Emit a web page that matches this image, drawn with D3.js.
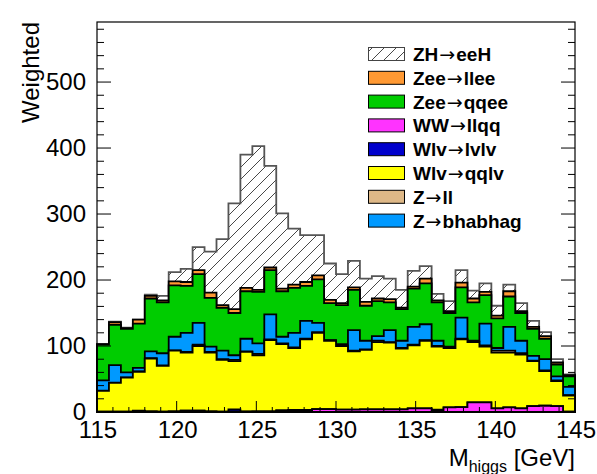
<!DOCTYPE html>
<html>
<head>
<meta charset="utf-8">
<script src="https://cdn.jsdelivr.net/npm/d3@7"></script>
<style>
  body { margin: 0; background: #fff; }
  text { font-family: "Liberation Sans", Arial, Helvetica, sans-serif; fill: #000; }
</style>
</head>
<body>
<svg id="chart" width="597" height="474"></svg>
<script>
// Binning of M_higgs: 40 bins of 0.75 GeV from 115 to 145 GeV
const binLowEdges = d3.range(40).map(i => 115 + i * 0.75);
const xRange = [115, 145];

// Weighted event counts per bin, one array per sample
const wwLlqq   = [0.5,0.5,0.5,1.5,1,0.5,1,2,2,1,0.5,1,0.5,1,1,2.5,2.5,3,4.5,4.5,3.5,3.5,4,4,4,4,5.5,5.5,3,7,7.5,14.5,14.5,5.5,7,5.5,9,9.5,9,0.5];
const wlvLvlv  = [0,0,0,0.5,0,0,0,0,0,0,0,3,0.5,0,0,0,0.5,0,0,0,0,0,0,0,0,0,0,0,0.5,0,0,0,0,0,0,0,0,0,0,0];
const wlvQqlv  = [31.5,43.5,51.5,59,80,69.5,92,88,98,89,78.5,73,90,85,108,100.5,94,107,115.5,103.5,96.5,88.5,90,102,101,92,95.5,102.5,95.5,90,102.5,91.5,84.5,84.5,83,81.5,68,52.5,38,24.5];
const zLl      = [0.5,0.5,0.5,0.5,0.5,0.5,0.5,1,2,1,1,2,1,2,1,1,1,1,1,0.5,1,1,1,2,1,1,1,1,1,1,1,1,2,3,3,2,1,1,1,0.5];
const zBhabhag = [15.5,26.5,7.5,5.5,10.5,18.5,20.5,29,33,8,13,7,19,16,38,10,22,27,14,0.5,2,31,13,7,18,11,27,24,8,1,32,1,33,4,36,19,7,17,6,12.5];
const zeeQqee  = [54,61,66,67,80,77,78,71,74,74,65,64,72,78,67,69,68,53,66,56,59,61,53,53,42,48,58,62,58,51,46,58,43,45,46,42,41,31,18,16];
const zeeLlee  = [1,4,1,6,4,3,6,6,6,8,4,6,5,3,4,4,5,6,6,5,3,4,6,4,5,2,3,7,3,3,7,6,5,4,8,3,3,4,3,2];
const zhEeH    = [0,1,1,0,2,7,14,20,35,62,100,160,202,218,154,114,85,71,61,55,44,40,35,34,31,27,24,19,10,15,19,12,13,15,10,12,9,6,5,1];

// Samples from bottom of the stack to top
const sampleNames  = ["WW→llqq", "Wlv→lvlv", "Wlv→qqlv", "Z→ll", "Z→bhabhag", "Zee→qqee", "Zee→llee", "ZH→eeH"];
const sampleValues = [wwLlqq, wlvLvlv, wlvQqlv, zLl, zBhabhag, zeeQqee, zeeLlee, zhEeH];
const sampleColors = ["#ff33ff", "#0000cc", "#ffff00", "#deb887", "#0099ff", "#00cc00", "#ff9933", "hatch"];

// Legend order, top to bottom
const legendOrder = ["ZH→eeH", "Zee→llee", "Zee→qqee", "WW→llqq", "Wlv→lvlv", "Wlv→qqlv", "Z→ll", "Z→bhabhag"];

const yTickValues = [0, 100, 200, 300, 400, 500];
const xTickValues = [115, 120, 125, 130, 135, 140, 145];

const svg = d3.select("#chart");
const frame = { left: 97, right: 575, top: 22, bottom: 412 };

const x = d3.scaleLinear().domain(xRange).range([frame.left, frame.right]);
const y = d3.scaleLinear().domain([0, 591]).range([frame.bottom, frame.top]);

// Hatch pattern for the signal
const defs = svg.append("defs");
const pat = defs.append("pattern")
  .attr("id", "hatch").attr("patternUnits", "userSpaceOnUse")
  .attr("width", 12).attr("height", 12);
pat.append("rect").attr("width", 12).attr("height", 12).attr("fill", "#fff");
pat.append("path")
  .attr("d", "M0,12 L12,0 M-3,3 L3,-3 M9,15 L15,9")
  .attr("stroke", "#333").attr("stroke-width", 0.9);

// Stack the samples
const table = binLowEdges.map((e, i) => {
  const row = { edge: e };
  sampleNames.forEach((n, k) => { row[n] = sampleValues[k][i]; });
  return row;
});
const stacked = d3.stack().keys(sampleNames)(table);

const area = d3.area()
  .curve(d3.curveStepAfter)
  .x(d => x(d.edge))
  .y0(y(0))
  .y1(d => y(d.top));

// Draw cumulative histograms, largest first, so each lower layer covers the one above it
for (let k = stacked.length - 1; k >= 0; k--) {
  const layer = stacked[k];
  const pts = layer.map((d, i) => ({ edge: binLowEdges[i], top: d[1] }));
  pts.push({ edge: xRange[1], top: layer[layer.length - 1][1] });
  const col = sampleColors[k];
  svg.append("path")
    .attr("d", area(pts))
    .attr("fill", col === "hatch" ? "url(#hatch)" : col)
    .attr("stroke", col === "hatch" ? "#555" : "#000")
    .attr("stroke-width", 1.8)
    .attr("stroke-linejoin", "miter");
}

// Frame
svg.append("rect")
  .attr("x", frame.left).attr("y", frame.top)
  .attr("width", frame.right - frame.left).attr("height", frame.bottom - frame.top)
  .attr("fill", "none").attr("stroke", "#000").attr("stroke-width", 1.2);

// Y ticks (left and right, pointing inward)
const ticks = svg.append("g").attr("stroke", "#000").attr("stroke-width", 1);
d3.range(0, 591, 20).forEach(v => {
  const major = v % 100 === 0;
  const len = major ? 14 : 7;
  ticks.append("line").attr("x1", frame.left).attr("x2", frame.left + len)
    .attr("y1", y(v)).attr("y2", y(v));
  ticks.append("line").attr("x1", frame.right).attr("x2", frame.right - len)
    .attr("y1", y(v)).attr("y2", y(v));
});
// X ticks (pointing up)
d3.range(115, 145.01, 1).forEach(v => {
  const major = v % 5 === 0;
  const len = major ? 11 : 5;
  ticks.append("line").attr("x1", x(v)).attr("x2", x(v))
    .attr("y1", frame.bottom).attr("y2", frame.bottom - len);
});

// Tick labels
svg.append("g").selectAll("text").data(yTickValues).join("text")
  .attr("x", 86).attr("y", d => y(d) - 1)
  .attr("text-anchor", "end").attr("dominant-baseline", "central")
  .attr("font-size", 24)
  .text(d => d);

svg.append("g").selectAll("text").data(xTickValues).join("text")
  .attr("x", d => x(d) + 1).attr("y", 438)
  .attr("text-anchor", "middle")
  .attr("font-size", 24)
  .text(d => d);

// Axis titles
const xt = svg.append("text")
  .attr("x", frame.right).attr("y", 466)
  .attr("text-anchor", "end").attr("font-size", 24);
xt.append("tspan").text("M");
xt.append("tspan").attr("font-size", 16).attr("dy", 6).text("higgs");
xt.append("tspan").attr("dy", -6).text(" [GeV]");

svg.append("text")
  .attr("transform", `translate(39,${frame.top}) rotate(-90)`)
  .attr("text-anchor", "end").attr("font-size", 24)
  .text("Weighted");

// Legend; the arrow is set in a font with a full-size arrow glyph
const legend = svg.append("g");
legendOrder.forEach((name, i) => {
  const k = sampleNames.indexOf(name);
  const cy = 54 + i * 23.8;
  const col = sampleColors[k];
  legend.append("rect")
    .attr("x", 368.5).attr("y", cy - 6.5).attr("width", 36).attr("height", 13)
    .attr("fill", col === "hatch" ? "url(#hatch)" : col)
    .attr("stroke", col === "hatch" ? "#444" : "#000").attr("stroke-width", 1);
  const [lhs, rhs] = name.split("→");
  const t = legend.append("text")
    .attr("x", 413).attr("y", cy).attr("dominant-baseline", "central")
    .attr("font-size", 19).attr("font-weight", "bold");
  t.append("tspan").text(lhs);
  t.append("tspan").attr("font-family", "DejaVu Sans").attr("font-weight", "normal")
    .attr("font-size", 19).attr("dx", 1).text("→");
  t.append("tspan").attr("dx", 1).text(rhs);
});
</script>
</body>
</html>
